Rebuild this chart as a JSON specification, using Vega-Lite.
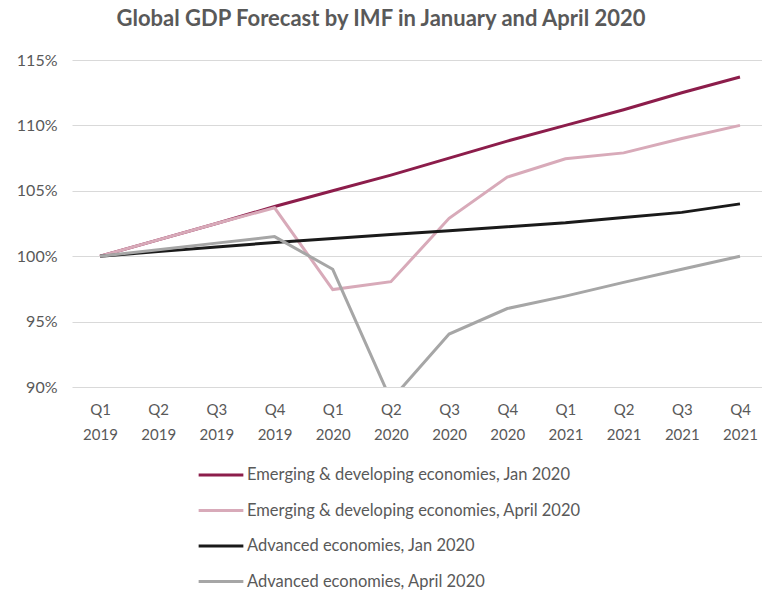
{
  "$schema": "https://vega.github.io/schema/vega-lite/v6.json",
  "width": 690,
  "height": 327,
  "autosize": {"type": "none"},
  "padding": {"left": 72, "top": 60, "right": 0, "bottom": 205},
  "background": "white",
  "title": {
    "text": "Global GDP Forecast by IMF in January and April 2020",
    "font": "Lato",
    "fontSize": 22,
    "fontWeight": "bold",
    "color": "#595959",
    "anchor": "middle",
    "dx": -36,
    "offset": 21
  },
  "config": {
    "view": {"stroke": null},
    "font": "Lato"
  },
  "data": {
    "values": [
      {"quarter": "Q1 2019", "series": "Emerging & developing economies, Jan 2020", "value": 100.0},
      {"quarter": "Q2 2019", "series": "Emerging & developing economies, Jan 2020", "value": 101.25},
      {"quarter": "Q3 2019", "series": "Emerging & developing economies, Jan 2020", "value": 102.5},
      {"quarter": "Q4 2019", "series": "Emerging & developing economies, Jan 2020", "value": 103.8},
      {"quarter": "Q1 2020", "series": "Emerging & developing economies, Jan 2020", "value": 105.0},
      {"quarter": "Q2 2020", "series": "Emerging & developing economies, Jan 2020", "value": 106.2},
      {"quarter": "Q3 2020", "series": "Emerging & developing economies, Jan 2020", "value": 107.5},
      {"quarter": "Q4 2020", "series": "Emerging & developing economies, Jan 2020", "value": 108.8},
      {"quarter": "Q1 2021", "series": "Emerging & developing economies, Jan 2020", "value": 110.0},
      {"quarter": "Q2 2021", "series": "Emerging & developing economies, Jan 2020", "value": 111.2},
      {"quarter": "Q3 2021", "series": "Emerging & developing economies, Jan 2020", "value": 112.5},
      {"quarter": "Q4 2021", "series": "Emerging & developing economies, Jan 2020", "value": 113.7},

      {"quarter": "Q1 2019", "series": "Emerging & developing economies, April 2020", "value": 100.0},
      {"quarter": "Q2 2019", "series": "Emerging & developing economies, April 2020", "value": 101.25},
      {"quarter": "Q3 2019", "series": "Emerging & developing economies, April 2020", "value": 102.5},
      {"quarter": "Q4 2019", "series": "Emerging & developing economies, April 2020", "value": 103.7},
      {"quarter": "Q1 2020", "series": "Emerging & developing economies, April 2020", "value": 97.45},
      {"quarter": "Q2 2020", "series": "Emerging & developing economies, April 2020", "value": 98.05},
      {"quarter": "Q3 2020", "series": "Emerging & developing economies, April 2020", "value": 102.9},
      {"quarter": "Q4 2020", "series": "Emerging & developing economies, April 2020", "value": 106.05},
      {"quarter": "Q1 2021", "series": "Emerging & developing economies, April 2020", "value": 107.45},
      {"quarter": "Q2 2021", "series": "Emerging & developing economies, April 2020", "value": 107.9},
      {"quarter": "Q3 2021", "series": "Emerging & developing economies, April 2020", "value": 109.0},
      {"quarter": "Q4 2021", "series": "Emerging & developing economies, April 2020", "value": 110.0},

      {"quarter": "Q1 2019", "series": "Advanced economies, Jan 2020", "value": 100.0},
      {"quarter": "Q2 2019", "series": "Advanced economies, Jan 2020", "value": 100.35},
      {"quarter": "Q3 2019", "series": "Advanced economies, Jan 2020", "value": 100.7},
      {"quarter": "Q4 2019", "series": "Advanced economies, Jan 2020", "value": 101.05},
      {"quarter": "Q1 2020", "series": "Advanced economies, Jan 2020", "value": 101.35},
      {"quarter": "Q2 2020", "series": "Advanced economies, Jan 2020", "value": 101.65},
      {"quarter": "Q3 2020", "series": "Advanced economies, Jan 2020", "value": 101.95},
      {"quarter": "Q4 2020", "series": "Advanced economies, Jan 2020", "value": 102.25},
      {"quarter": "Q1 2021", "series": "Advanced economies, Jan 2020", "value": 102.55},
      {"quarter": "Q2 2021", "series": "Advanced economies, Jan 2020", "value": 102.95},
      {"quarter": "Q3 2021", "series": "Advanced economies, Jan 2020", "value": 103.35},
      {"quarter": "Q4 2021", "series": "Advanced economies, Jan 2020", "value": 104.0},

      {"quarter": "Q1 2019", "series": "Advanced economies, April 2020", "value": 100.0},
      {"quarter": "Q2 2019", "series": "Advanced economies, April 2020", "value": 100.5},
      {"quarter": "Q3 2019", "series": "Advanced economies, April 2020", "value": 101.0},
      {"quarter": "Q4 2019", "series": "Advanced economies, April 2020", "value": 101.5},
      {"quarter": "Q1 2020", "series": "Advanced economies, April 2020", "value": 99.0},
      {"quarter": "Q2 2020", "series": "Advanced economies, April 2020", "value": 89.0},
      {"quarter": "Q3 2020", "series": "Advanced economies, April 2020", "value": 94.05},
      {"quarter": "Q4 2020", "series": "Advanced economies, April 2020", "value": 96.0},
      {"quarter": "Q1 2021", "series": "Advanced economies, April 2020", "value": 96.95},
      {"quarter": "Q2 2021", "series": "Advanced economies, April 2020", "value": 98.0},
      {"quarter": "Q3 2021", "series": "Advanced economies, April 2020", "value": 99.0},
      {"quarter": "Q4 2021", "series": "Advanced economies, April 2020", "value": 100.0}
    ]
  },
  "mark": {"type": "line", "strokeWidth": 3, "clip": true, "strokeJoin": "miter"},
  "encoding": {
    "x": {
      "field": "quarter",
      "type": "ordinal",
      "sort": null,
      "scale": {"type": "point", "padding": 0.43, "align": 0.56},
      "axis": {
        "title": null,
        "labelAngle": 0,
        "labelExpr": "split(datum.label, ' ')",
        "labelFont": "Lato",
        "labelFontSize": 15,
        "labelColor": "#595959",
        "labelLineHeight": 25,
        "labelPadding": 15,
        "ticks": false,
        "domain": false,
        "grid": false
      }
    },
    "y": {
      "field": "value",
      "type": "quantitative",
      "scale": {"domain": [90, 115], "nice": false, "zero": false},
      "axis": {
        "title": null,
        "values": [90, 95, 100, 105, 110, 115],
        "labelExpr": "datum.value + '%'",
        "labelFont": "Lato",
        "labelFontSize": 16,
        "labelColor": "#595959",
        "labelPadding": 15,
        "ticks": false,
        "domain": false,
        "grid": true,
        "gridColor": "#D9D9D9",
        "gridWidth": 1
      }
    },
    "color": {
      "field": "series",
      "type": "nominal",
      "scale": {
        "domain": [
          "Emerging & developing economies, Jan 2020",
          "Emerging & developing economies, April 2020",
          "Advanced economies, Jan 2020",
          "Advanced economies, April 2020"
        ],
        "range": ["#8C1D4B", "#D8AAB9", "#1A1A1A", "#A6A6A6"]
      },
      "legend": {
        "title": null,
        "orient": "none",
        "legendX": 125,
        "legendY": 391,
        "direction": "vertical",
        "symbolType": "stroke",
        "symbolSize": 2000,
        "symbolStrokeWidth": 3,
        "labelFont": "Lato",
        "labelFontSize": 16.5,
        "labelColor": "#595959",
        "labelOffset": 2,
        "rowPadding": 2.5,
        "labelLimit": 500
      }
    }
  }
}
